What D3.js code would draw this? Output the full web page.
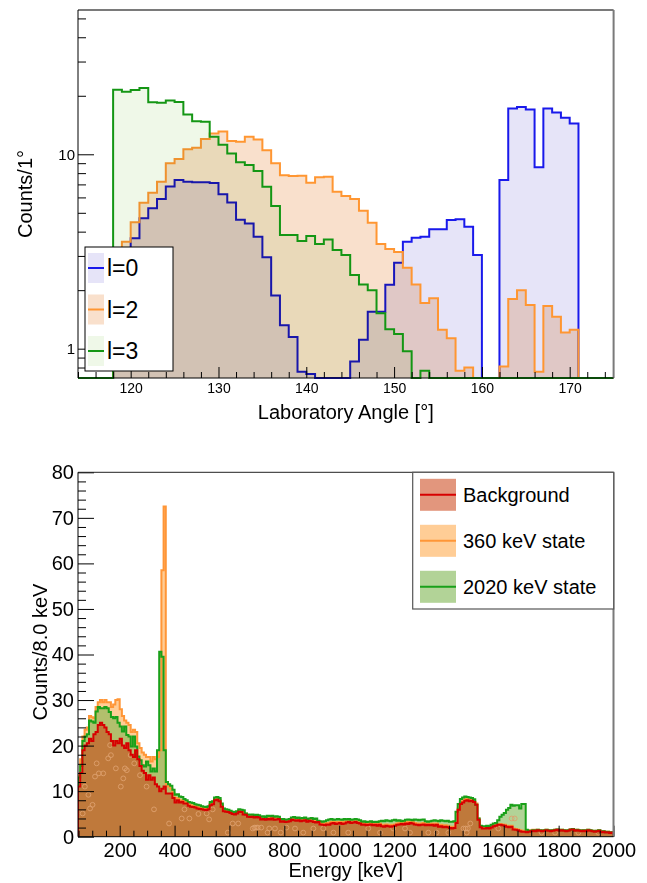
<!DOCTYPE html>
<html><head><meta charset="utf-8">
<script src="https://cdn.jsdelivr.net/npm/d3@7/dist/d3.min.js"></script>
<style>
html,body{margin:0;padding:0;background:#fff;}
svg text{font-family:"Liberation Sans",Arial,Helvetica,sans-serif;fill:#000;}
</style></head><body>
<svg id="chart" width="647" height="883"></svg>
<script>
// ---------------- TOP PANEL DATA (1 degree bins, lower edge 114 .. 174) ----------------
const angleFirstEdge = 114;
const angleBinWidth = 1;
const l0Counts = [
  0,0,0,0,1.2,2.4,3.7,4.69,5.28,5.89,
  6.82,7.38,7.23,7.18,7.18,7.11,6.23,5.65,4.6,4.4,
  3.77,2.95,1.88,1.32,1.15,0.76,0.74,0,0,0,
  0,0.86,1.11,1.55,1.55,2.13,2.77,3.55,3.72,3.77,
  4.11,4.11,4.59,4.63,4.24,3.03,0,0,7.38,17.2,
  17.5,17.0,8.57,17.2,16.4,15.4,14.4,0,0,0,
  0];
const l2Counts = [
  0,0,0,0,1.8,3.55,4.47,5.64,6.35,7.23,
  8.99,9.46,10.6,10.8,12.0,12.8,13.1,11.7,11.6,12.3,
  11.9,10.5,8.99,7.8,7.73,7.76,7.14,7.61,7.67,6.42,
  6.10,5.89,5.13,4.45,3.46,3.26,3.14,2.61,2.14,1.72,
  1.82,1.25,1.13,0.77,0.80,0,0,0,0.81,1.80,
  2.00,1.68,0.76,1.66,1.46,1.21,1.25,0,0,0,
  0];
const l3Counts = [
  0,0,0,0,21.5,21.0,21.4,21.9,18.5,18.4,
  18.9,18.6,16.0,14.8,14.7,12.3,11.2,10.1,9.1,8.8,
  8.2,6.8,5.42,3.84,3.84,3.58,3.80,3.46,3.65,3.22,
  3.03,2.39,2.14,2.00,1.52,1.26,1.19,0.97,0,0.77,
  0,0,0,0,0,0,0,0,0,0,
  0,0,0,0,0,0,0,0,0,0,
  0];
const topLabels = ["l=0","l=2","l=3"];
const topXMajor = [120,130,140,150,160,170];
const topXMinor = [114,116,118,122,124,126,128,132,134,136,138,142,144,146,148,152,154,156,158,162,164,166,168,172,174];
const topYMajor = [1,10];
const topYMinor = [0.8,0.9,2,3,4,5,6,7,8,9,20,30,40,50];

// ---------------- BOTTOM PANEL DATA (8 keV bins, lower edge 48 .. 1992) ----------------
const energyFirstEdge = 48;
const energyBinWidth = 8;
const bgCounts = [
  11,14,19,20,20.5,21.5,21,22.5,23,24.5,
  25,24.5,24,23,22.5,21,20,21,20.5,21.5,
  20,19.5,20.5,19,18,17.5,19,17,15.5,14.5,
  14,12.5,13.5,12.5,13,11.5,11,10,10.5,11,
  9.5,9.5,9.5,8.5,7.5,8,7.5,7.7,7.3,7.3,
  6.8,6.6,6.5,6.4,6.2,6.1,6.0,5.9,5.8,6.0,
  6.9,7.1,8.0,8.1,7.8,6.6,5.6,5.5,5.4,5.2,
  5.0,4.9,5.1,5.5,5.4,4.9,4.8,4.4,4.3,4.4,
  4.2,4.3,4.2,3.8,3.9,3.7,3.9,3.8,4.0,3.7,
  3.8,3.9,3.3,3.4,3.2,3.3,3.4,3.7,3.6,3.5,
  3.6,3.4,3.5,3.6,3.3,3.5,3.4,3.2,3.1,3.2,
  2.7,2.6,2.5,2.7,2.6,2.9,3.0,2.8,2.9,3.0,
  2.8,2.9,3.1,3.2,3.0,3.1,3.2,3.0,2.9,2.6,
  2.7,2.5,2.6,2.7,2.5,2.6,2.4,2.6,2.3,2.2,
  2.4,2.3,2.2,2.3,2.4,2.6,2.7,2.8,2.7,2.9,
  2.8,3.0,2.9,2.7,2.6,2.5,2.6,2.7,2.5,2.6,
  2.5,2.6,2.4,2.6,2.2,2.3,2.1,2.2,2.1,1.9,
  1.8,1.9,3.0,5.9,7.2,7.5,7.9,8.0,7.8,7.9,
  7.6,7.0,3.7,2.1,1.8,1.8,1.9,1.8,2.0,2.3,
  2.4,2.6,2.6,2.5,2.4,2.2,2.1,2.2,1.6,1.5,
  1.4,1.2,1.1,1.1,1.0,1.1,1.2,1.3,1.2,1.4,
  1.3,1.2,1.3,1.4,1.3,1.2,1.3,1.4,1.5,1.3,
  1.4,1.3,1.2,1.3,1.5,1.6,1.3,1.4,1.3,1.2,
  1.3,1.2,1.4,1.3,1.2,1.1,1.2,1.3,1.0,1.1,
  0.9,1.0,0.8,0.9];
const s360Counts = [
  13.5,17,22,23.5,24,26.5,26.2,26,28.5,29.5,
  30,29.5,30,29.5,29.5,28.5,29,30,30.2,28,
  26.5,25.5,25,24.5,23,23.5,23,20.5,19.5,18.5,
  18,17.5,17.5,16.5,17.5,17,17.5,19,58.5,72.5,
  11.5,11,10.5,9.5,8.5,8.5,8,8,7.8,7.6,
  7.1,6.9,6.8,6.7,6.5,6.4,6.3,6.2,6.1,6.3,
  7.2,7.4,8.3,8.4,8.1,6.9,5.9,5.8,5.7,5.5,
  5.3,5.2,5.4,5.8,5.7,5.2,5.1,4.7,4.6,4.7,
  4.5,4.6,4.5,4.1,4.2,4.0,4.2,4.1,4.3,4.0,
  4.1,4.2,3.6,3.7,3.5,3.6,3.7,4.0,3.9,3.8,
  3.9,3.7,3.8,3.9,3.6,3.8,3.7,3.5,3.4,3.4,
  3.0,2.9,2.8,3.0,2.9,3.2,3.3,3.1,3.2,3.3,
  3.1,3.2,3.4,3.5,3.3,3.4,3.5,3.3,3.2,2.9,
  3.0,2.8,2.9,3.0,2.8,2.9,2.7,2.9,2.6,2.5,
  2.7,2.6,2.5,2.6,2.7,2.9,3.0,3.1,3.0,3.2,
  3.1,3.3,3.2,3.0,2.9,2.8,2.9,3.0,2.8,2.9,
  2.8,2.9,2.7,2.9,2.5,2.6,2.4,2.5,2.4,2.2,
  2.1,2.2,3.3,6.2,7.5,7.8,8.2,8.3,8.1,8.2,
  7.9,7.3,4.0,2.3,2.0,2.0,2.1,2.0,2.2,2.5,
  2.6,2.8,2.8,2.7,2.6,2.4,2.3,2.4,1.8,1.7,
  1.6,1.4,1.3,1.3,1.2,1.3,1.4,1.5,1.4,1.5,
  1.4,1.3,1.4,1.5,1.4,1.3,1.4,1.5,1.6,1.4,
  1.5,1.4,1.3,1.4,1.6,1.7,1.4,1.5,1.4,1.3,
  1.4,1.3,1.5,1.4,1.3,1.2,1.3,1.4,1.1,1.2,
  1.0,1.1,0.9,1.0];
const s2020Counts = [
  13,15.5,21,22,22.5,25.5,25.3,25,27.5,28.5,
  28.2,28.2,28.5,28.2,27.4,26.3,26,26.3,25,24.2,
  23.1,24.2,22.3,22,19.8,22,19.8,17.6,16.8,15.7,
  15.4,16.5,15.7,14.3,15,14.3,19,40.6,39.5,19,
  12,11.5,11.2,10.3,9.2,9.3,8.8,8.7,8.3,8.0,
  7.6,7.5,7.4,7.1,7.0,6.9,6.7,6.6,6.5,6.7,
  7.6,7.8,8.6,8.7,8.5,7.3,6.2,6.0,5.9,5.7,
  5.5,5.4,5.6,6.0,5.9,5.8,5.1,4.9,4.8,4.9,
  4.7,4.8,4.7,4.4,4.5,4.3,4.6,4.5,4.6,4.4,
  4.5,4.4,3.8,3.9,3.7,3.8,3.9,4.2,4.3,4.1,
  4.2,4.0,4.1,4.2,3.9,4.0,4.1,3.9,4.0,3.5,
  3.4,3.3,3.4,3.6,3.8,3.9,3.7,3.8,3.9,3.8,
  3.7,3.9,3.8,3.9,3.7,3.8,3.9,3.8,3.6,3.3,
  3.4,3.2,3.3,3.4,3.2,3.3,3.2,3.4,3.5,3.4,
  3.6,3.5,3.4,3.6,3.7,3.5,3.6,3.4,3.5,3.7,
  3.8,3.7,3.6,3.8,3.7,3.6,3.7,3.8,3.4,3.3,
  3.4,3.5,3.6,3.5,3.4,3.6,3.5,3.4,3.5,3.3,
  3.3,3.4,5.5,7.2,8.3,8.6,8.8,8.7,8.6,8.5,
  8.2,7.0,4.0,2.4,2.3,2.3,2.4,2.3,2.6,2.9,
  3.0,3.6,4.4,4.8,5.2,5.9,6.3,7.0,6.8,6.9,
  6.9,6.2,7.2,7.2,1.5,1.3,1.3,1.4,1.3,1.5,
  1.4,1.3,1.4,1.5,1.4,1.3,1.4,1.5,1.6,1.4,
  1.5,1.4,1.3,1.4,1.6,1.7,1.4,1.5,1.4,1.3,
  1.4,1.3,1.5,1.4,1.3,1.2,1.3,1.4,1.1,1.2,
  1.0,1.1,0.9,1.0];
// faint open-circle markers [energy keV, counts]
const markerPoints = [
  [65,5.1],[73,11],[86,9.2],[92,6.2],[101,7],[110,13.2],[116,16.1],[124,13.9],[140,13.9],[158,17.2],
  [165,20.1],[168,17.9],[186,15],[204,11],[213,12.8],[219,15],[226,14.6],[240,17.9],[253,16.1],[274,13.5],
  [298,11],[325,6],[380,2.9],[426,4],[436,6],[454,4],[487,5],[517,5.1],[526,3.8],[539,6],
  [594,0.9],[612,2.9],[632,2.9],[685,1.8],[691,2],[697,2],[703,2],[716,2],[739,0.9],[745,1.8],
  [766,1.8],[787,0.9],[808,2],[839,1.8],[869,0.9],[906,1.8],[942,1.8],[979,0.9],[1033,0.9],[1106,1.8],
  [1149,0.9],[1197,1.8],[1240,1.8],[1258,0.9],[1325,0.9],[1355,0.9],[1398,0.9],[1453,1.8],[1461,1.8],[1469,1.8],
  [1478,2.9],[1465,0.9],[1580,1.8],[1629,4],[1640,4],[1738,0.9],[1787,0.9],[1872,0.9],[1945,0.9]];
const bottomLabels = ["Background","360 keV state","2020 keV state"];
const botXMajor = [200,400,600,800,1000,1200,1400,1600,1800,2000];
const botXMinor = [50,100,150,250,300,350,450,500,550,650,700,750,850,900,950,1050,1100,1150,1250,1300,1350,1450,1500,1550,1650,1700,1750,1850,1900,1950];
const botYMajor = [0,10,20,30,40,50,60,70,80];
const botYMinor = [2,4,6,8,12,14,16,18,22,24,26,28,32,34,36,38,42,44,46,48,52,54,56,58,62,64,66,68,72,74,76,78];

// ---------------- DRAWING ----------------
const svg = d3.select('#chart');
svg.append('rect').attr('width',647).attr('height',883).attr('fill','#fff');
const defs = svg.append('defs');

function histPoints(vals, e0, w){
  const pts = [{e:e0, v:0}];
  vals.forEach((v,i)=>pts.push({e:e0+i*w, v:v}));
  pts.push({e:e0+vals.length*w, v:0});
  return pts;
}

function styleAxis(g, size){
  g.select('.domain').remove();
  g.selectAll('.tick line').attr('stroke','#000').attr('stroke-width',1);
  g.selectAll('.tick text').attr('font-size',size).attr('font-family','"Liberation Sans",Arial,sans-serif').attr('fill','#000');
}

// ===== TOP =====
const T = {x0:78, x1:613.6, y0:10, y1:378};
const xT = d3.scaleLinear().domain([114,175]).range([T.x0,T.x1]);
const yT = d3.scaleLog().domain([0.7066,55.24]).range([T.y1,T.y0]);
defs.append('clipPath').attr('id','clipT').append('rect')
  .attr('x',T.x0).attr('y',T.y0).attr('width',T.x1-T.x0).attr('height',T.y1-T.y0+1.5);
const yTv = d => d.v > 0 ? Math.min(yT(d.v), T.y1) : T.y1;
const lineT = d3.line().x(d=>xT(d.e)).y(yTv).curve(d3.curveStepAfter);
const areaT = d3.area().x(d=>xT(d.e)).y0(T.y1).y1(yTv).curve(d3.curveStepAfter);
const topSeries = [
  {vals:l0Counts, fill:'rgb(230,228,248)', stroke:'rgb(25,25,235)'},
  {vals:l2Counts, fill:'rgb(249,224,204)', stroke:'rgb(255,150,50)'},
  {vals:l3Counts, fill:'rgb(239,248,232)', stroke:'rgb(20,150,20)'}
];
const gTh = svg.append('g').attr('clip-path','url(#clipT)');
topSeries.forEach(s=>{
  const pts = histPoints(s.vals, angleFirstEdge, angleBinWidth);
  gTh.append('path').attr('d',areaT(pts)).attr('fill',s.fill).style('mix-blend-mode','multiply');
  gTh.append('path').attr('d',lineT(pts)).attr('fill','none').attr('stroke',s.stroke).attr('stroke-width',2);
});
// axes top
svg.append('g').attr('transform',`translate(0,${T.y1})`)
  .call(d3.axisBottom(xT).tickValues(topXMinor).tickSize(-6).tickFormat(''))
  .call(g=>styleAxis(g,14));
svg.append('g').attr('transform',`translate(0,${T.y1})`)
  .call(d3.axisBottom(xT).tickValues(topXMajor).tickSize(-11).tickPadding(5).tickFormat(d3.format('d')))
  .call(g=>styleAxis(g,14));
svg.append('g').attr('transform',`translate(${T.x0},0)`)
  .call(d3.axisLeft(yT).tickValues(topYMinor).tickSize(-8).tickFormat(''))
  .call(g=>styleAxis(g,14));
svg.append('g').attr('transform',`translate(${T.x0},0)`)
  .call(d3.axisLeft(yT).tickValues(topYMajor).tickSize(-16).tickPadding(3).tickFormat(d3.format('d')))
  .call(g=>styleAxis(g,15));
// frame top
svg.append('line').attr('x1',T.x0).attr('x2',T.x1).attr('y1',T.y0).attr('y2',T.y0).attr('stroke','#7a7a7a').attr('stroke-width',2);
svg.append('line').attr('x1',T.x1).attr('x2',T.x1).attr('y1',T.y0).attr('y2',T.y1).attr('stroke','#7a7a7a').attr('stroke-width',2);
svg.append('line').attr('x1',T.x0).attr('x2',T.x0).attr('y1',T.y0).attr('y2',T.y1).attr('stroke','#000').attr('stroke-width',1);
svg.append('line').attr('x1',T.x0).attr('x2',T.x1).attr('y1',T.y1).attr('y2',T.y1).attr('stroke','#000').attr('stroke-width',1);
// titles top
svg.append('text').attr('x',(T.x0+T.x1)/2).attr('y',419).attr('text-anchor','middle').attr('font-size',20).text('Laboratory Angle [°]');
svg.append('text').attr('transform',`translate(32,${(T.y0+T.y1)/2}) rotate(-90)`).attr('text-anchor','middle').attr('font-size',20).text('Counts/1°');
// legend top
const lgT = svg.append('g');
lgT.append('rect').attr('x',85).attr('y',247).attr('width',88).attr('height',124).attr('fill','#fff').attr('stroke','#000').attr('stroke-width',1);
const topLegY = [268, 309.5, 351];
topSeries.forEach((s,i)=>{
  const cy = topLegY[i];
  lgT.append('rect').attr('x',88).attr('y',cy-15).attr('width',16).attr('height',30).attr('fill',s.fill);
  lgT.append('line').attr('x1',88).attr('x2',104).attr('y1',cy).attr('y2',cy).attr('stroke',s.stroke).attr('stroke-width',2);
  lgT.append('text').attr('x',107).attr('y',cy).attr('dy','0.36em').attr('font-size',23).text(topLabels[i]);
});

// ===== BOTTOM =====
const B = {x0:78, x1:613.5, y0:472.3, y1:836.7};
const xB = d3.scaleLinear().domain([48,2000]).range([B.x0,B.x1]);
const yB = d3.scaleLinear().domain([0,80]).range([B.y1,B.y0]);
defs.append('clipPath').attr('id','clipB').append('rect')
  .attr('x',B.x0).attr('y',B.y0).attr('width',B.x1-B.x0).attr('height',B.y1-B.y0);
const lineB = d3.line().x(d=>xB(d.e)).y(d=>yB(d.v)).curve(d3.curveStepAfter);
const areaB = d3.area().x(d=>xB(d.e)).y0(B.y1).y1(d=>yB(d.v)).curve(d3.curveStepAfter);
const botSeries = [
  {vals:bgCounts,    fill:'rgb(203,63,19)',  op:0.55, stroke:'rgb(215,0,0)'},
  {vals:s360Counts,  fill:'rgb(255,155,45)', op:0.5,  stroke:'rgb(255,150,55)'},
  {vals:s2020Counts, fill:'rgb(127,181,81)', op:0.6,  stroke:'rgb(25,160,25)'}
];
const drawOrder = [1,2,0];
const gBh = svg.append('g').attr('clip-path','url(#clipB)');
drawOrder.forEach(k=>{
  const s = botSeries[k];
  gBh.append('path').attr('d',areaB(histPoints(s.vals, energyFirstEdge, energyBinWidth))).attr('fill',s.fill).attr('fill-opacity',s.op);
});
gBh.selectAll('circle.mk').data(markerPoints).enter().append('circle')
  .attr('cx',d=>xB(d[0])).attr('cy',d=>yB(d[1])).attr('r',2.4)
  .attr('fill','none').attr('stroke','rgb(222,160,110)').attr('stroke-width',0.9);
drawOrder.forEach(k=>{
  const s = botSeries[k];
  gBh.append('path').attr('d',lineB(histPoints(s.vals, energyFirstEdge, energyBinWidth))).attr('fill','none').attr('stroke',s.stroke).attr('stroke-width',2);
});
// axes bottom
svg.append('g').attr('transform',`translate(0,${B.y1})`)
  .call(d3.axisBottom(xB).tickValues(botXMinor).tickSize(-6).tickFormat(''))
  .call(g=>styleAxis(g,20));
svg.append('g').attr('transform',`translate(0,${B.y1})`)
  .call(d3.axisBottom(xB).tickValues(botXMajor).tickSize(-11).tickPadding(6).tickFormat(d3.format('d')))
  .call(g=>styleAxis(g,20));
svg.append('g').attr('transform',`translate(${B.x0},0)`)
  .call(d3.axisLeft(yB).tickValues(botYMinor).tickSize(-8).tickFormat(''))
  .call(g=>styleAxis(g,20));
svg.append('g').attr('transform',`translate(${B.x0},0)`)
  .call(d3.axisLeft(yB).tickValues(botYMajor).tickSize(-16).tickPadding(4).tickFormat(d3.format('d')))
  .call(g=>styleAxis(g,20));
// frame bottom
svg.append('line').attr('x1',B.x0).attr('x2',B.x1).attr('y1',B.y0).attr('y2',B.y0).attr('stroke','#222').attr('stroke-width',1);
svg.append('line').attr('x1',B.x1).attr('x2',B.x1).attr('y1',B.y0).attr('y2',B.y1).attr('stroke','#7a7a7a').attr('stroke-width',2);
svg.append('line').attr('x1',B.x0).attr('x2',B.x0).attr('y1',B.y0).attr('y2',B.y1).attr('stroke','#000').attr('stroke-width',1);
svg.append('line').attr('x1',B.x0).attr('x2',B.x1).attr('y1',B.y1).attr('y2',B.y1).attr('stroke','#000').attr('stroke-width',1);
// titles bottom
svg.append('text').attr('x',(B.x0+B.x1)/2).attr('y',877).attr('text-anchor','middle').attr('font-size',20).text('Energy [keV]');
svg.append('text').attr('transform',`translate(47,652) rotate(-90)`).attr('text-anchor','middle').attr('font-size',20).text('Counts/8.0 keV');
// legend bottom
const lgB = svg.append('g');
lgB.append('rect').attr('x',412.7).attr('y',472.3).attr('width',201).attr('height',136.7).attr('fill','#fff').attr('stroke','#555').attr('stroke-width',1.2);
const botLegY = [494.8, 540.8, 586.8];
botSeries.forEach((s,i)=>{
  const cy = botLegY[i];
  lgB.append('rect').attr('x',420).attr('y',cy-16).attr('width',36).attr('height',32).attr('fill',s.fill).attr('fill-opacity',s.op);
  lgB.append('line').attr('x1',420).attr('x2',456).attr('y1',cy).attr('y2',cy).attr('stroke',s.stroke).attr('stroke-width',2);
  lgB.append('text').attr('x',463).attr('y',cy).attr('dy','0.36em').attr('font-size',20).text(bottomLabels[i]);
});
</script>
</body></html>
